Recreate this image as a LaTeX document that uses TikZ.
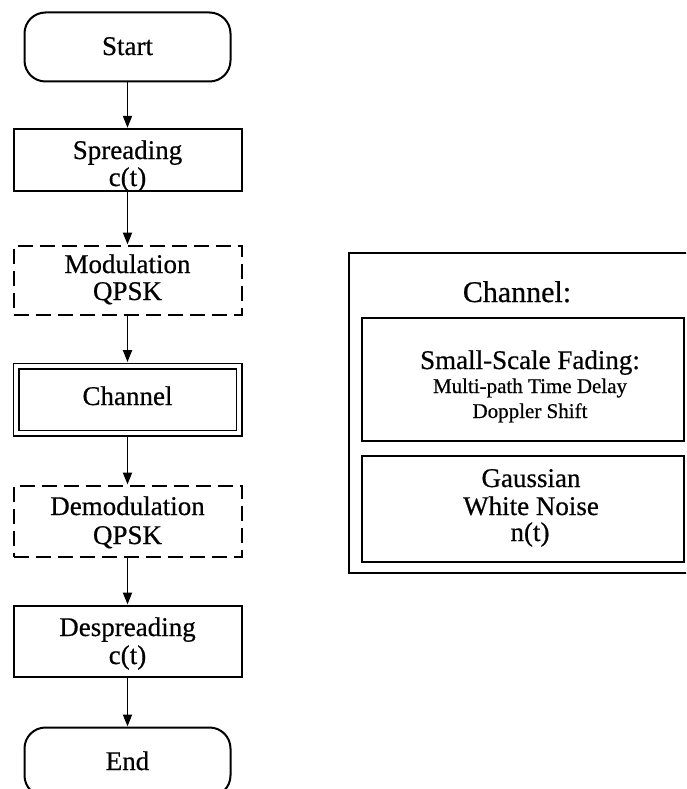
\documentclass[tikz,border=0pt]{standalone}
\usepackage{fontspec}
\setmainfont{Liberation Serif}[FakeBold=0.6]
\usetikzlibrary{arrows.meta}
\begin{document}
\begin{tikzpicture}[x=1pt,y=-1pt,
  flowbox/.style={draw, line width=2pt, rectangle, minimum width=228pt, inner sep=0pt},
  dashbox/.style={flowbox, dash pattern=on 15pt off 7pt},
  terminal/.style={draw, line width=2pt, rectangle, rounded corners=21pt,
    minimum width=206pt, minimum height=69pt, inner sep=0pt},
  panel/.style={draw, line width=2pt, rectangle, inner sep=0pt},
  txt/.style={font=\fontsize{27}{27}\selectfont, inner sep=0pt, anchor=base},
  small/.style={font=\fontsize{21}{21}\selectfont, inner sep=0pt, anchor=base},
  title/.style={font=\fontsize{30}{30}\selectfont, inner sep=0pt, anchor=base},
  flow/.style={line width=1.8pt, -{Triangle[length=12pt,width=9pt]}}]
\useasboundingbox (0,0) rectangle (686,789);
\clip (0,0) rectangle (686,789);

% flow chart column
\node[terminal] (start) at (127.5,47) {};
\node[txt] (start-l) at (127.5,55) {Start};

\node[flowbox, minimum height=62.4pt] (spread) at (127.5,160) {};
\node[txt] (spread-l1) at (127.5,159) {Spreading};
\node[txt] (spread-l2) at (127.5,186) {c(t)};

\node[dashbox, minimum height=69pt] (mod) at (127.5,280) {};
\node[txt] (mod-l1) at (127.5,273) {Modulation};
\node[txt] (mod-l2) at (127.5,300) {QPSK};

\node[draw, rectangle, inner sep=0pt, line width=1.8pt, double, double distance=3.4pt,
  minimum width=223pt, minimum height=67pt] (chan) at (127.5,399.5) {};
\node[txt] (chan-l) at (127.5,405) {Channel};

\node[dashbox, minimum height=71pt] (demod) at (127.5,521) {};
\node[txt] (demod-l1) at (127.5,515) {Demodulation};
\node[txt] (demod-l2) at (127.5,544) {QPSK};

\node[flowbox, minimum height=71pt] (despread) at (127.5,641) {};
\node[txt] (despread-l1) at (127.5,636) {Despreading};
\node[txt] (despread-l2) at (127.5,664) {c(t)};

\node[terminal] (end) at (127.5,762) {};
\node[txt] (end-l) at (127.5,770) {End};

% connectors
\draw[flow] (start.south) -- (spread.north);
\draw[flow] (spread.south) -- (mod.north);
\draw[flow, shorten >=3pt] (mod.south) -- (chan.north);
\draw[flow, shorten <=3pt] (chan.south) -- (demod.north);
\draw[flow] (demod.south) -- (despread.north);
\draw[flow] (despread.south) -- (end.north);

% channel model panel
\node[panel, minimum width=347pt, minimum height=320.4pt] (model) at (522.4,413) {};
\node[title] (model-t) at (517,302) {Channel:};

\node[panel, minimum width=322.7pt, minimum height=123.4pt] (fading) at (523.1,379.5) {};
\node[txt] (fading-l1) at (530,369) {Small-Scale Fading:};
\node[small] (fading-l2) at (530,393) {Multi-path Time Delay};
\node[small] (fading-l3) at (530,418) {Doppler Shift};

\node[panel, minimum width=322.7pt, minimum height=106.4pt] (noise) at (523.1,509) {};
\node[txt] (noise-l1) at (531,487) {Gaussian};
\node[txt] (noise-l2) at (531,515) {White Noise};
\node[txt] (noise-l3) at (530,541) {n(t)};
\end{tikzpicture}
\end{document}
